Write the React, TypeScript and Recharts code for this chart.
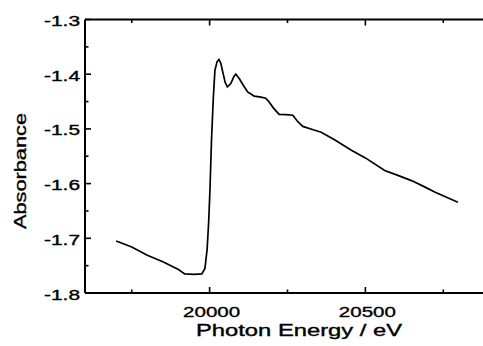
import React from 'react';
import { LineChart, Line, XAxis, YAxis } from 'recharts';

const energies = [19700, 19750, 19800, 19850, 19900, 19920, 19950, 19975, 19985, 19992, 19997, 20001, 20006, 20012, 20017, 20024, 20030, 20036, 20041, 20050, 20057, 20068, 20078, 20084, 20095, 20110, 20122, 20143, 20165, 20180, 20190, 20205, 20223, 20245, 20267, 20282, 20299, 20330, 20358, 20401, 20455, 20500, 20562, 20600, 20648, 20690, 20724, 20797];
const absorbance = [-1.705, -1.716, -1.731, -1.743, -1.757, -1.765, -1.766, -1.765, -1.755, -1.72, -1.67, -1.613, -1.521, -1.442, -1.393, -1.377, -1.373, -1.38, -1.393, -1.415, -1.423, -1.417, -1.404, -1.4, -1.408, -1.422, -1.4325, -1.44, -1.442, -1.444, -1.45, -1.462, -1.4734, -1.474, -1.475, -1.486, -1.4954, -1.501, -1.506, -1.52, -1.539, -1.553, -1.576, -1.584, -1.5945, -1.606, -1.616, -1.634];
const xTicks = [19750, 20000, 20250, 20500, 20750];
const yTicks = [-1.8, -1.75, -1.7, -1.65, -1.6, -1.55, -1.5, -1.45, -1.4, -1.35, -1.3];
const xTitle = 'Photon Energy / eV';
const yTitle = 'Absorbance';

const data = energies.map((e, i) => ({ e, a: absorbance[i] }));
const FONT = '"Liberation Sans", Arial, sans-serif';
const INK = '#000';
const TEXT_STROKE = { stroke: INK, strokeWidth: 0.35 };

const TOP = 19.5;
const XAXIS_H = 53;
const H = 346;
const BOTTOM_Y = H - XAXIS_H;
const LEFT_X = 85;

const renderBottomTick = (props: any) => {
  const { x, payload } = props;
  const v = payload.value as number;
  const major = v % 500 === 0;
  return (
    <g key={`b${v}`}>
      <line x1={x} x2={x} y1={BOTTOM_Y} y2={BOTTOM_Y - (major ? 6 : 3.5)} stroke={INK} strokeWidth={1.6} />
      {major && (
        <text x={x + 2} y={BOTTOM_Y + 23.5} textAnchor="middle" fontFamily={FONT} fontSize={15} fill={INK}
          {...TEXT_STROKE} textLength={57} lengthAdjust="spacingAndGlyphs">
          {String(v)}
        </text>
      )}
    </g>
  );
};

const renderTopTick = (props: any) => {
  const { x, payload } = props;
  const v = payload.value as number;
  const major = v % 500 === 0;
  return <line key={`t${v}`} x1={x} x2={x} y1={TOP} y2={TOP + (major ? 6 : 3.5)} stroke={INK} strokeWidth={1.6} />;
};

const renderLeftTick = (props: any) => {
  const { y, payload } = props;
  const v = payload.value as number;
  const major = Math.round(Math.abs(v) * 100) % 10 === 0;
  return (
    <g key={`l${v}`}>
      <line x1={LEFT_X} x2={LEFT_X + (major ? 6 : 3.5)} y1={y} y2={y} stroke={INK} strokeWidth={1.6} />
      {major && (
        <text x={80} y={y + 6.5} textAnchor="end" fontFamily={FONT} fontSize={14} fill={INK}
          {...TEXT_STROKE} textLength={36} lengthAdjust="spacingAndGlyphs">
          {v.toFixed(1)}
        </text>
      )}
    </g>
  );
};

export default function App() {
  return (
    <div style={{ position: 'fixed', left: 0, top: 0, width: 483, height: 346, overflow: 'hidden', background: '#fff' }}>
      <LineChart width={490} height={H} data={data} margin={{ top: TOP - 1, right: 0, bottom: 0, left: 0 }}>
        <XAxis
          dataKey="e"
          type="number"
          domain={[19600, 20900]}
          ticks={xTicks}
          height={XAXIS_H}
          tickLine={false}
          axisLine={{ stroke: INK, strokeWidth: 2 }}
          tick={renderBottomTick}
          interval={0}
          label={{
            content: () => (
              <text x={299} y={336} textAnchor="middle" fontFamily={FONT} fontSize={16} fill={INK}
                {...TEXT_STROKE} textLength={206} lengthAdjust="spacingAndGlyphs">
                {xTitle}
              </text>
            ),
          }}
        />
        <XAxis
          xAxisId="top"
          dataKey="e"
          type="number"
          orientation="top"
          domain={[19600, 20900]}
          ticks={xTicks}
          height={1}
          tickLine={false}
          axisLine={{ stroke: INK, strokeWidth: 2 }}
          tick={renderTopTick}
          interval={0}
        />
        <YAxis
          type="number"
          domain={[-1.8, -1.3]}
          ticks={yTicks}
          width={LEFT_X}
          tickLine={false}
          axisLine={{ stroke: INK, strokeWidth: 2 }}
          tick={renderLeftTick}
          interval={0}
          label={{
            content: () => (
              <text x={0} y={0} transform="translate(26,171) rotate(-90)" textAnchor="middle" fontFamily={FONT}
                fontSize={16} fill={INK} {...TEXT_STROKE} textLength={116} lengthAdjust="spacingAndGlyphs">
                {yTitle}
              </text>
            ),
          }}
        />
        <Line
          dataKey="a"
          type="linear"
          stroke={INK}
          strokeWidth={1.7}
          dot={false}
          isAnimationActive={false}
        />
      </LineChart>
    </div>
  );
}
